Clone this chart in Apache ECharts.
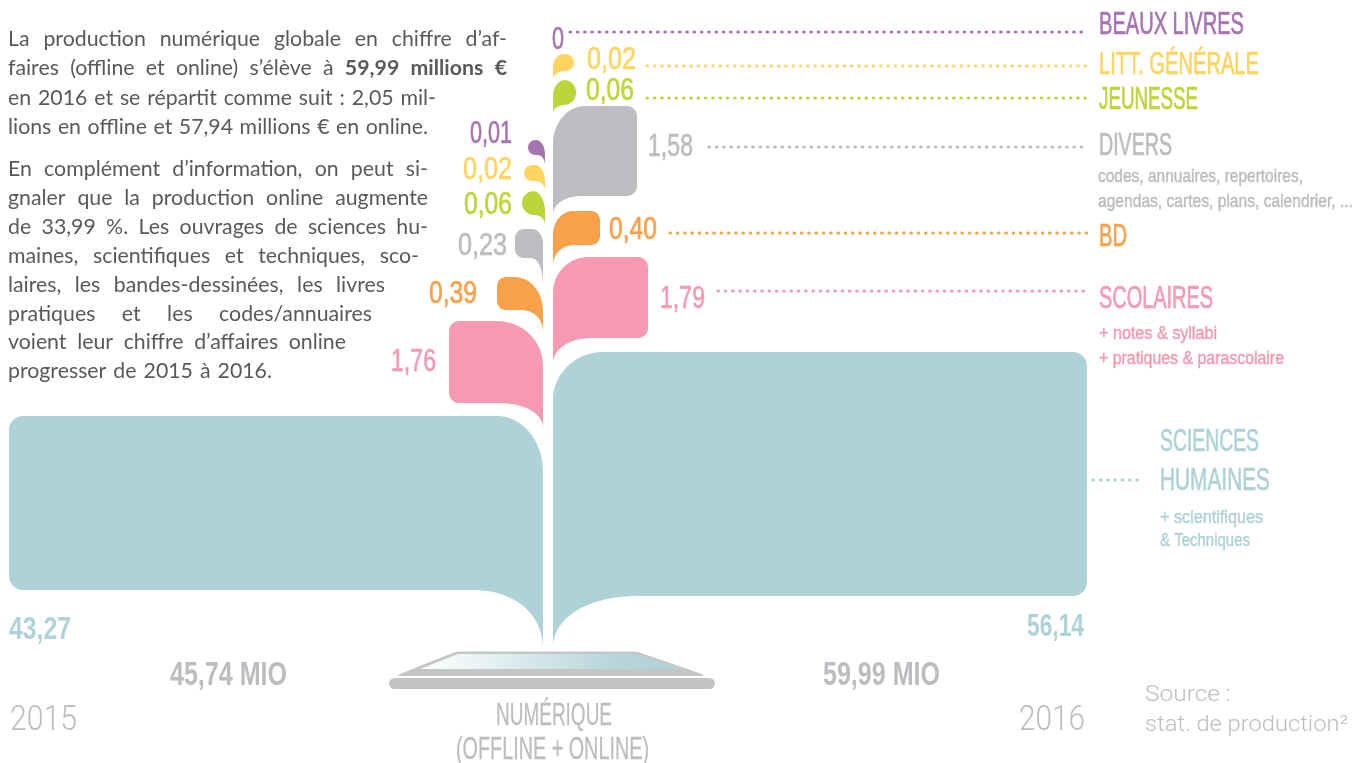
<!DOCTYPE html>
<html><head><meta charset="utf-8">
<style>html,body{margin:0;padding:0;background:#fff;overflow:hidden}#c{width:1367px;height:763px}</style>
<script src="https://cdn.jsdelivr.net/npm/echarts@6/dist/echarts.min.js"></script>
</head><body><div id="c"></div>
<script>
// ---- data ----
const categories = ['BEAUX LIVRES','LITT. GÉNÉRALE','JEUNESSE','DIVERS','BD','SCOLAIRES','SCIENCES HUMAINES'];
const values2015 = [0.01,0.02,0.06,0.23,0.39,1.76,43.27];
const values2016 = [0,0.02,0.06,1.58,0.40,1.79,56.14];
const years = ['2015','2016'];
const totalUnit = 'MIO';
const notes = {
  3:['codes, annuaires, repertoires,','agendas, cartes, plans, calendrier, ...'],
  5:['+ notes & syllabi','+ pratiques & parascolaire'],
  6:['+ scientifiques','& Techniques']
};
const bodyLines = [
 'La production numérique globale en chiffre d’af-',
 'faires (offline et online) s’élève à 59,99 millions €',
 'en 2016 et se répartit comme suit : 2,05 mil-',
 'lions en offline et 57,94 millions € en online.',
 'En complément d’information, on peut si-',
 'gnaler que la production online augmente',
 'de 33,99 %. Les ouvrages de sciences hu-',
 'maines, scientifiques et techniques, sco-',
 'laires, les bandes-dessinées, les livres',
 'pratiques et les codes/annuaires',
 'voient leur chiffre d’affaires online',
 'progresser de 2015 à 2016.'
];
const centerTitle = ['NUMÉRIQUE','(OFFLINE + ONLINE)'];
const sourceLines = ['Source :','stat. de production²'];

// ---- styling & layout (hidden axis units, separate from the values) ----
const W = 1367, H = 763;
const colors = ['#a774b2','#ffd45f','#bcd63a','#bcbdc0','#f9a04b','#f59ab2','#aed2d8'];
const GREY = '#bcbdc0';
const NARROW = '"Liberation Sans Narrow","Liberation Sans",sans-serif';
const LIGHT = 'Roboto,sans-serif';
// stem, outer edge, top, bottom, tip, corner, top curve x/y, tail x
const leaves2015 = [
 [545,528,140,155,165,7.5,9,14,8],[545,524,165,181,191,8,10,16,10],[545,522,191,215,225,12,12,20,11],
 [543,515,229,258,285,9,11,14,12],[543,497,277,310,332,9,28,34,22],[543,449,321,403,428,10,46,44,45],
 [543,9,416,590,648,14,46,55,70]];
const leaves2016 = [
 null,[553,574,54,71,80,8.5,11,13,12],[553,576,80,105,114,12,12,16,12],
 [553,637,106,196,215,10,32,38,30],[553,600,211,245,266,9,20,24,22],[553,648,257,338,364,10,35,36,40],
 [553,1087,352,596,648,14,50,48,85]];
// x-left, x-right, centre y
const valueBoxes2015 = [[470,512,132],[463,512,168],[464,512,203],[458,507,244],[429,477,292],[391,436,360],[9,71,628]];
const valueBoxes2016 = [[552,564,38],[587,636,58],[586,634,89],[648,693,145],[609,657,228],[660,705,297],[1027,1084,625]];
const nameBoxes = [[1099,1244,23],[1099,1259,63],[1099,1198,98],[1099,1172,144],[1099,1127,235],[1099,1213,297],[1160,1259,440]];
const noteBoxes = {3:[[1098,1303,175],[1098,1353,200]],5:[[1099,1217,332],[1099,1284,357]],6:[[1160,1263,516],[1160,1250,539]]};
const leaders = [[570,1087,32],[647,1087,66],[647,1087,98],[709,1087,147],[670,1087,233],[718,1087,291],[1093,1143,480]];
const bodyRight = [507,507,436,428,428,428,428,419,385,372,346,272];
const bodyY = [39,68,98,127,169,198,227,256,285,314,342,371];

const mc = document.createElement('canvas').getContext('2d');
function textW(t, font){ mc.font = font; return mc.measureText(t).width; }
const fmt = v => v === 0 ? '0' : v.toFixed(2).replace('.',',');
const sum = a => a.reduce((p,c)=>p+c,0);

// text fitted to a box
function fitted(api, t, x0, x1, yc, size, weight, family, fill, thick){
  const font = weight+' '+size+'px '+family;
  const p = api.coord([x0,yc+2]), q = api.coord([x1,yc+2]);
  return {type:'text', x:p[0], y:p[1], scaleX:(q[0]-p[0])/textW(t,font),
    style:{text:t, x:0, y:0, font:font, fill:fill, stroke:thick?fill:null, lineWidth:thick||0, textAlign:'left', textVerticalAlign:'middle'}};
}
function leafPath(api, f){
  const [s,r,t,b,T,c,rx,ry,bx] = f, d = r>s?1:-1, k = 0.45*c;
  const P = (x,y)=>{const q=api.coord([x,y]);return q[0].toFixed(1)+' '+q[1].toFixed(1);};
  return 'M'+P(s,T)+'L'+P(s,t+ry)+'C'+P(s,t+ry*0.45)+' '+P(s+d*rx*0.45,t)+' '+P(s+d*rx,t)
   +'L'+P(r-d*c,t)+'C'+P(r-d*k,t)+' '+P(r,t+k)+' '+P(r,t+c)
   +'L'+P(r,b-c)+'C'+P(r,b-k)+' '+P(r-d*k,b)+' '+P(r-d*c,b)
   +'L'+P(s+d*bx,b)+'C'+P(s+d*bx*0.42,b)+' '+P(s,b+(T-b)*0.4)+' '+P(s,T)+'Z';
}
function renderLeaf(frames){
  return (params, api)=>{
    const i = params.dataIndex, f = frames[i];
    if(!f) return {type:'group',children:[]};
    return {type:'path', shape:{pathData:leafPath(api,f)}, style:{fill:colors[i]}};
  };
}
function renderValues(boxes){
  return (params, api)=>{
    const i = params.dataIndex, b = boxes[i], big = i===6;
    return fitted(api, fmt(api.value(1)), b[0], b[1], b[2], 32, big?'bold':'normal', NARROW, colors[i], big?0:0.7);
  };
}
function renderNames(params, api){
  const i = params.dataIndex, b = nameBoxes[i], kids = [];
  if(i===6){
    const [a,c] = categories[6].split(' ');
    kids.push(fitted(api,a,1160,1259,440,31,'normal',NARROW,colors[6],0.7));
    kids.push(fitted(api,c,1160,1270,479,31,'normal',NARROW,colors[6],0.7));
  } else kids.push(fitted(api,categories[i],b[0],b[1],b[2],31,'normal',NARROW,colors[i],0.7));
  (notes[i]||[]).forEach((n,k)=>{const nb=noteBoxes[i][k];
    kids.push(fitted(api,n,nb[0],nb[1],nb[2],19,'normal',NARROW,i===3?GREY:colors[i],0.5));});
  return {type:'group',children:kids};
}
function renderLeader(params, api){
  const i = params.dataIndex, l = leaders[i], a = api.coord([l[0],l[2]]), e = api.coord([l[1],l[2]]);
  return {type:'line', shape:{x1:a[0],y1:a[1],x2:e[0],y2:e[1]},
    style:{stroke:colors[i], lineWidth:3.2, lineCap:'round', lineDash:[0.5,6.8]}};
}
function renderExtra(params, api){
  const kids = [
   fitted(api,fmt(sum(values2015)).concat(' ',totalUnit),170,287,674,34,'bold',NARROW,GREY),
   fitted(api,fmt(sum(values2016)).concat(' ',totalUnit),823,940,674,34,'bold',NARROW,GREY),
   fitted(api,years[0],10,77,719,35,300,LIGHT,GREY),
   fitted(api,years[1],1019,1085,719,35,300,LIGHT,GREY),
   fitted(api,sourceLines[0],1145,1231,693,22,300,LIGHT,GREY),
   fitted(api,sourceLines[1],1145,1348,723,22,300,LIGHT,GREY),
   fitted(api,centerTitle[0],496,612,714,31,'normal',NARROW,GREY,0.3),
   fitted(api,centerTitle[1],456,649,748,31,'normal',NARROW,GREY,0.3)
  ];
  return {type:'group',children:kids};
}
function bodyElements(){
  const size = 21.3, els = [], fam = 'Lato,sans-serif';
  bodyLines.forEach((line,i)=>{
    const words = line.split(' ');
    const isBold = (w,k)=> i===1 && k>=words.length-3;
    const fonts = words.map((w,k)=>(isBold(w,k)?'bold ':'normal ')+size+'px '+fam);
    const widths = words.map((w,k)=>textW(w,fonts[k]));
    const total = widths.reduce((p,c)=>p+c,0);
    const gap = (bodyRight[i]-8-total)/(words.length-1);
    let x = 8;
    words.forEach((w,k)=>{
      els.push({type:'text',x:x,y:bodyY[i],silent:true,
        style:{text:w,font:fonts[k],fill:'#58595b',textAlign:'left',textVerticalAlign:'middle'}});
      x += widths[k]+gap;
    });
  });
  return els;
}
const tablet = [
 {type:'polygon',shape:{points:[[398,676],[400,674],[455,652],[460,651.5],[632,651.5],[638,652],[702,674],[704,676]]},style:{fill:'#c4c6c5'}},
 {type:'polygon',shape:{points:[[420,669],[458,654],[634,654],[683,669]]},
  style:{fill:new echarts.graphic.LinearGradient(0,0,1,0,[{offset:0,color:'#ffffff'},{offset:0.75,color:'#b5d5da'},{offset:1,color:'#aed2d8'}])}},
 {type:'rect',shape:{x:389,y:678,width:326,height:11,r:5.5},style:{fill:'#c1c4c3'}}
];

const idx = categories.map((c,i)=>i);
const chart = echarts.init(document.getElementById('c'),null,{renderer:'canvas',width:W,height:H});
const base = {type:'custom',coordinateSystem:'cartesian2d',clip:false,silent:true,animation:false,encode:{x:0,y:1}};
chart.setOption({
  animation:false,
  backgroundColor:'#fff',
  grid:{left:0,right:0,top:0,bottom:0},
  xAxis:{type:'value',min:0,max:W,show:false},
  yAxis:{type:'value',min:0,max:H,inverse:true,show:false},
  graphic:{elements:bodyElements().concat(tablet)},
  series:[
   Object.assign({},base,{name:'2015',data:idx.map(i=>[i,values2015[i]]),renderItem:renderLeaf(leaves2015)}),
   Object.assign({},base,{name:'2016',data:idx.map(i=>[i,values2016[i]]),renderItem:renderLeaf(leaves2016)}),
   Object.assign({},base,{name:'v2015',data:idx.map(i=>[i,values2015[i]]),renderItem:renderValues(valueBoxes2015)}),
   Object.assign({},base,{name:'v2016',data:idx.map(i=>[i,values2016[i]]),renderItem:renderValues(valueBoxes2016)}),
   Object.assign({},base,{name:'names',data:idx.map(i=>[i,i]),renderItem:renderNames}),
   Object.assign({},base,{name:'leaders',data:idx.map(i=>[i,i]),renderItem:renderLeader}),
   Object.assign({},base,{name:'extra',data:[[0,0]],renderItem:renderExtra})
  ]
});
</script></body></html>
